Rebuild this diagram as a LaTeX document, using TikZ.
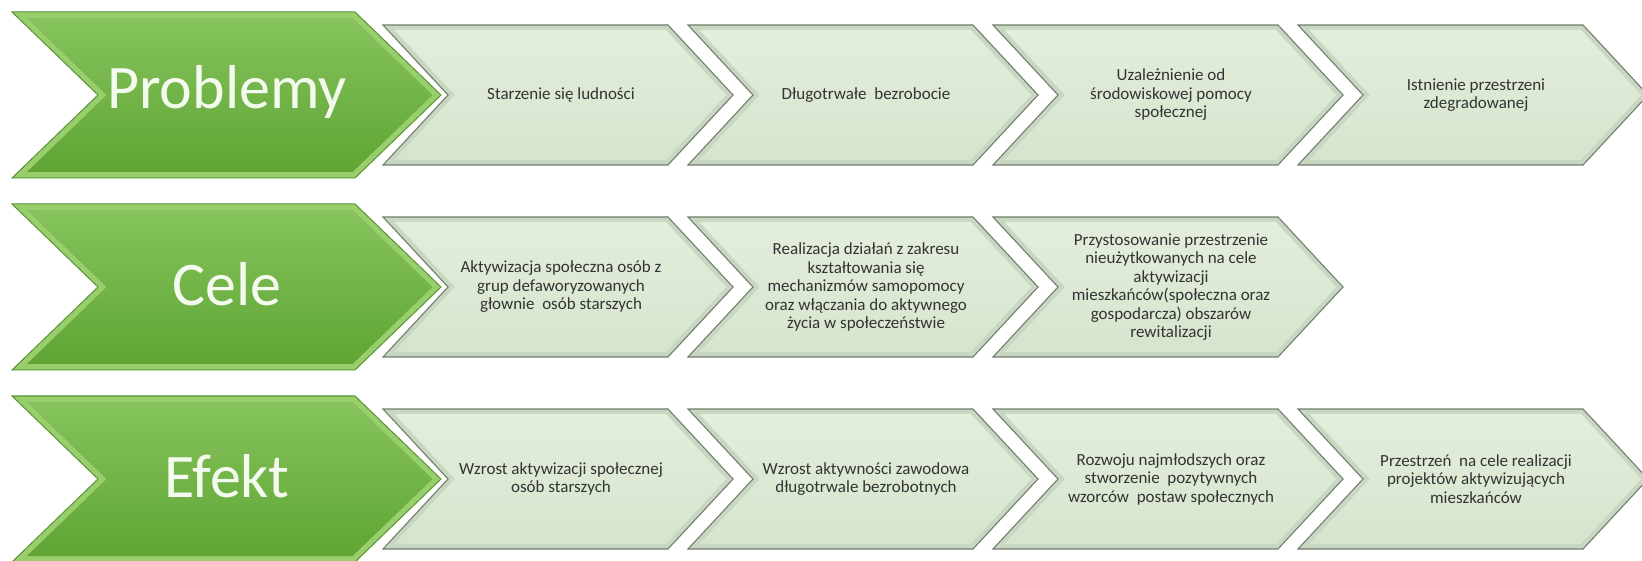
\documentclass[tikz,border=0pt]{standalone}
\usepackage{fontspec}
\setmainfont{Carlito}
\definecolor{lfacetop}{HTML}{E3EEDC}
\definecolor{lfacebot}{HTML}{D6E4CD}
\definecolor{lrim}{HTML}{C8D7BF}
\definecolor{ledge}{HTML}{737D70}
\definecolor{gtop}{HTML}{86C35C}
\definecolor{gbot}{HTML}{5FA535}
\definecolor{grim}{HTML}{98CE6C}
\definecolor{gedge}{HTML}{5A9434}
\definecolor{ltext}{HTML}{333333}
\definecolor{gtext}{HTML}{F4FAEE}
\tikzset{
  lbl/.style={align=center, text=ltext, font=\fontsize{17}{18.5}\selectfont, inner sep=0pt},
  glbl/.style={text=gtext, font=\fontsize{62}{72}\selectfont, inner sep=0pt}
}
% #1 node name, #2 left x, #3 centre y, #4 text
\newcommand\lightchev[4]{%
  \fill[lrim, draw=ledge, line width=1.1pt, line join=miter]
    (#2,#3-70) -- (#2+285,#3-70) -- (#2+350,#3) -- (#2+285,#3+70) -- (#2,#3+70) -- (#2+65,#3) -- cycle;
  \shade[top color=lfacetop, bottom color=lfacebot]
    (#2+11.4,#3-65) -- (#2+282.8,#3-65) -- (#2+343.2,#3) -- (#2+282.8,#3+65) -- (#2+11.4,#3+65) -- (#2+71.8,#3) -- cycle;
  \node[lbl] (#1) at (#2+178,#3) {#4};
}
% #1 node name, #2 centre y, #3 text
\newcommand\greenchev[3]{%
  \fill[grim, draw=gedge, line width=1pt]
    (12,#2-83) -- (355,#2-83) -- (441,#2) -- (355,#2+83) -- (12,#2+83) -- (98,#2) -- cycle;
  \shade[top color=gtop, bottom color=gbot]
    (26.9,#2-77) -- (352.6,#2-77) -- (432.4,#2) -- (352.6,#2+77) -- (26.9,#2+77) -- (106.6,#2) -- cycle;
  \node[glbl] (#1) at (227,#2-3) {#3};
}
\begin{document}
\begin{tikzpicture}[x=1pt,y=-1pt]
\useasboundingbox (0,0) rectangle (1642,561);
\fill[white] (0,0) rectangle (1642,561);

% Row 1
\greenchev{rowP}{95}{Problemy}
\lightchev{p1}{383}{95}{Starzenie się ludności}
\lightchev{p2}{688}{95}{Długotrwałe~ bezrobocie}
\lightchev{p3}{993}{95}{Uzależnienie od\\środowiskowej pomocy\\społecznej}
\lightchev{p4}{1298}{95}{Istnienie przestrzeni\\zdegradowanej}

% Row 2
\greenchev{rowC}{287}{Cele}
\lightchev{c1}{383}{287}{Aktywizacja społeczna osób z\\grup defaworyzowanych\\głownie~ osób starszych}
\lightchev{c2}{688}{287}{Realizacja działań z zakresu\\kształtowania się\\mechanizmów samopomocy\\oraz włączania do aktywnego\\życia w społeczeństwie}
\lightchev{c3}{993}{287}{Przystosowanie przestrzenie\\nieużytkowanych na cele\\aktywizacji\\mieszkańców(społeczna oraz\\gospodarcza) obszarów\\rewitalizacji}

% Row 3
\greenchev{rowE}{479}{Efekt}
\lightchev{e1}{383}{479}{Wzrost aktywizacji społecznej\\osób starszych}
\lightchev{e2}{688}{479}{Wzrost aktywności zawodowa\\długotrwale bezrobotnych}
\lightchev{e3}{993}{479}{Rozwoju najmłodszych oraz\\stworzenie~ pozytywnych\\wzorców~ postaw społecznych}
\lightchev{e4}{1298}{479}{Przestrzeń~ na cele realizacji\\projektów aktywizujących\\mieszkańców}
\end{tikzpicture}
\end{document}
